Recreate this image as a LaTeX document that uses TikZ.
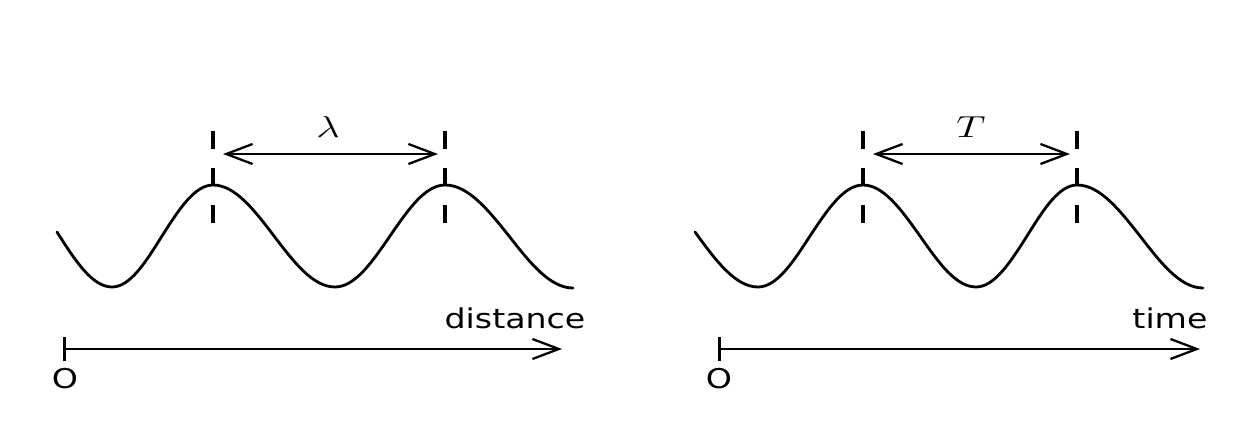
\documentclass[tikz,border=0pt]{standalone}
\usepackage{fontspec}
\newfontfamily\labfont{DejaVu Sans}
\usetikzlibrary{arrows.meta}
\tikzset{
  wave/.style={line width=1.6pt, line cap=round},
  peakmark/.style={line width=1.8pt, dash pattern=on 10.2pt off 10.8pt},
  dimarrow/.style={line width=1.3pt, {Straight Barb[length=15pt,width=11.4pt]}-{Straight Barb[length=15pt,width=11.4pt]}},
  axisarrow/.style={line width=1.3pt, {Bar[width=13.6pt,line width=1.8pt]}-{Straight Barb[length=15pt,width=11.4pt]}},
  axlabel/.style={font=\labfont\fontsize{15.5}{18}\selectfont, xscale=1.22, anchor=base, inner sep=0pt},
  symlabel/.style={font=\fontsize{18}{21}\selectfont, xscale=1.35, anchor=base, inner sep=0pt}
}
\begin{document}
\begin{tikzpicture}[x=0.02cm, y=-0.02cm]
\useasboundingbox (0,0) rectangle (1250,439);
\fill[white] (0,0) rectangle (1250,439);

% ---------- left panel ----------
\coordinate (Lp1) at (213,185);
\coordinate (Lp2) at (445,185);
\draw[wave] (57,232) sin (112,287) cos (162,236) sin (Lp1) cos (274,236)
  sin (335,287) cos (390,236) sin (Lp2) cos (509,236) sin (573,288);
\draw[peakmark] (213,131) -- (213,223);
\draw[peakmark] (445,131) -- (445,223);
\coordinate (La) at (223,154);
\coordinate (Lb) at (438,154);
\draw[dimarrow] (La) -- (Lb);
\node[symlabel] (lambda) at (328,137) {$\lambda$};

\coordinate (Lo) at (63,349);
\coordinate (Le) at (562,349);
\draw[axisarrow] (Lo) -- (Le);
\node[axlabel] (dist) at (515,328) {distance};
\node[axlabel] (LO) at (65,388) {O};

% ---------- right panel ----------
\coordinate (Rp1) at (863,185);
\coordinate (Rp2) at (1077,185);
\draw[wave] (695,232) sin (758,287) cos (810,236) sin (Rp1) cos (920,236)
  sin (976,287) cos (1027,236) sin (Rp2) cos (1140,236) sin (1203,288);
\draw[peakmark] (863,131) -- (863,223);
\draw[peakmark] (1077,131) -- (1077,223);
\coordinate (Ra) at (873,154);
\coordinate (Rb) at (1070,154);
\draw[dimarrow] (Ra) -- (Rb);
\node[symlabel] (period) at (971,137) {$T$};

\coordinate (Ro) at (718,349);
\coordinate (Re) at (1200,349);
\draw[axisarrow] (Ro) -- (Re);
\node[axlabel] (time) at (1170,328) {time};
\node[axlabel] (RO) at (719,388) {O};
\end{tikzpicture}
\end{document}
